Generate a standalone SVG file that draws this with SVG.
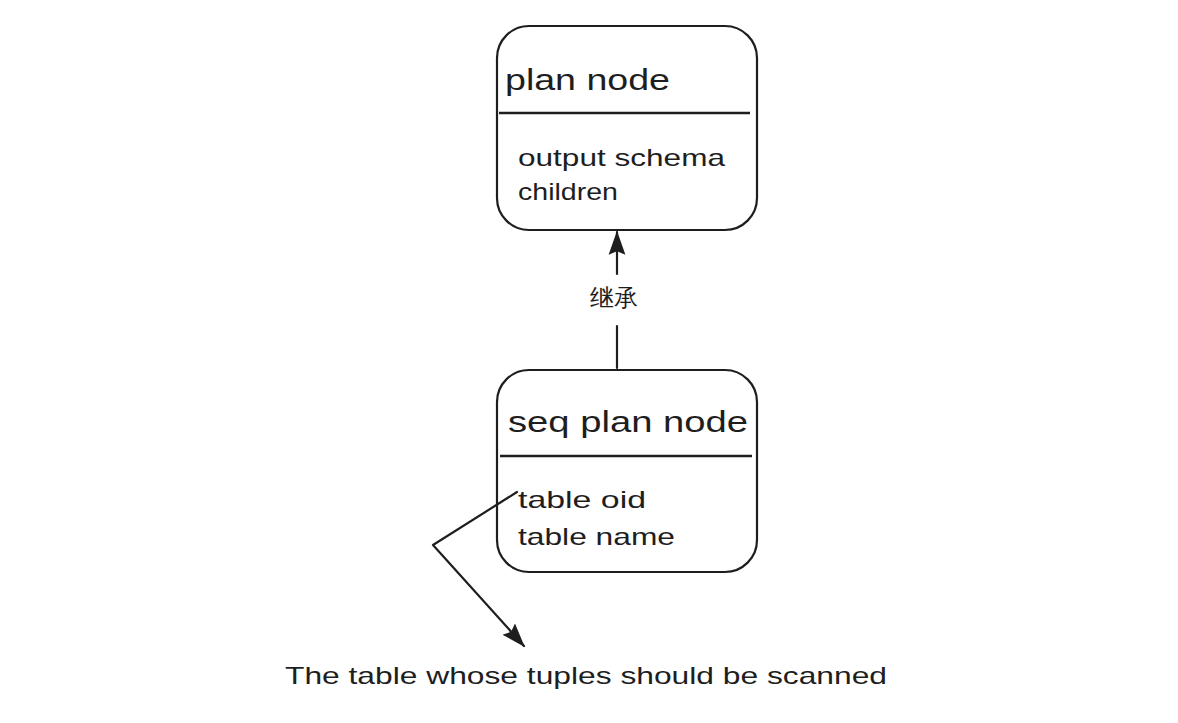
<svg xmlns="http://www.w3.org/2000/svg" width="1178" height="723" viewBox="0 0 1178 723">
<style>
.box{fill:#fff;stroke:#1e1e1e;stroke-width:2.2}
.div{stroke:#1e1e1e;stroke-width:2.5}
.t{font-family:"Liberation Sans","Noto Sans",sans-serif;fill:#1e1e1e}
.title{font-size:30px}
.body{font-size:24px}
.edge{fill:none;stroke:#1e1e1e;stroke-width:2.2;stroke-linecap:round;stroke-linejoin:round}
</style>
<defs>
<marker id="ah" viewBox="0 0 20 20" refX="19" refY="10" markerWidth="24" markerHeight="24" markerUnits="userSpaceOnUse" orient="auto">
<path d="M0,3 L20,10 L0,17 L3,10 Z" fill="#1e1e1e"/>
</marker>
</defs>
<rect width="1178" height="723" fill="#fff"/>
<g id="plan-node">
<rect class="box" x="497" y="26" width="260" height="204" rx="32"/>
<line class="div" x1="499" y1="113" x2="750" y2="113"/>
<text class="t title" x="505" y="90" textLength="165" lengthAdjust="spacingAndGlyphs">plan node</text>
<text class="t body" x="518" y="166" textLength="207" lengthAdjust="spacingAndGlyphs">output schema</text>
<text class="t body" x="518" y="200" textLength="100" lengthAdjust="spacingAndGlyphs">children</text>
</g>
<g id="seq-plan-node">
<rect class="box" x="497" y="370" width="260" height="202" rx="32"/>
<line class="div" x1="500" y1="456" x2="752" y2="456"/>
<text class="t title" x="508" y="432" textLength="240" lengthAdjust="spacingAndGlyphs">seq plan node</text>
<text class="t body" x="518" y="508" textLength="128" lengthAdjust="spacingAndGlyphs">table oid</text>
<text class="t body" x="518" y="545" textLength="157" lengthAdjust="spacingAndGlyphs">table name</text>
</g>
<g id="connectors">
<path class="edge" d="M617,368 L617,326"/>
<path class="edge" d="M617,274 L617,232" marker-end="url(#ah)"/>
<text class="t" x="614" y="306" font-size="24" text-anchor="middle" font-family="'Liberation Sans','Noto Sans CJK SC',sans-serif">继承</text>
<path class="edge" d="M517,492 L433,545 L524,646" marker-end="url(#ah)"/>
</g>
<g id="note">
<text class="t body" x="285" y="684" textLength="602" lengthAdjust="spacingAndGlyphs">The table whose tuples should be scanned</text>
</g>
</svg>
